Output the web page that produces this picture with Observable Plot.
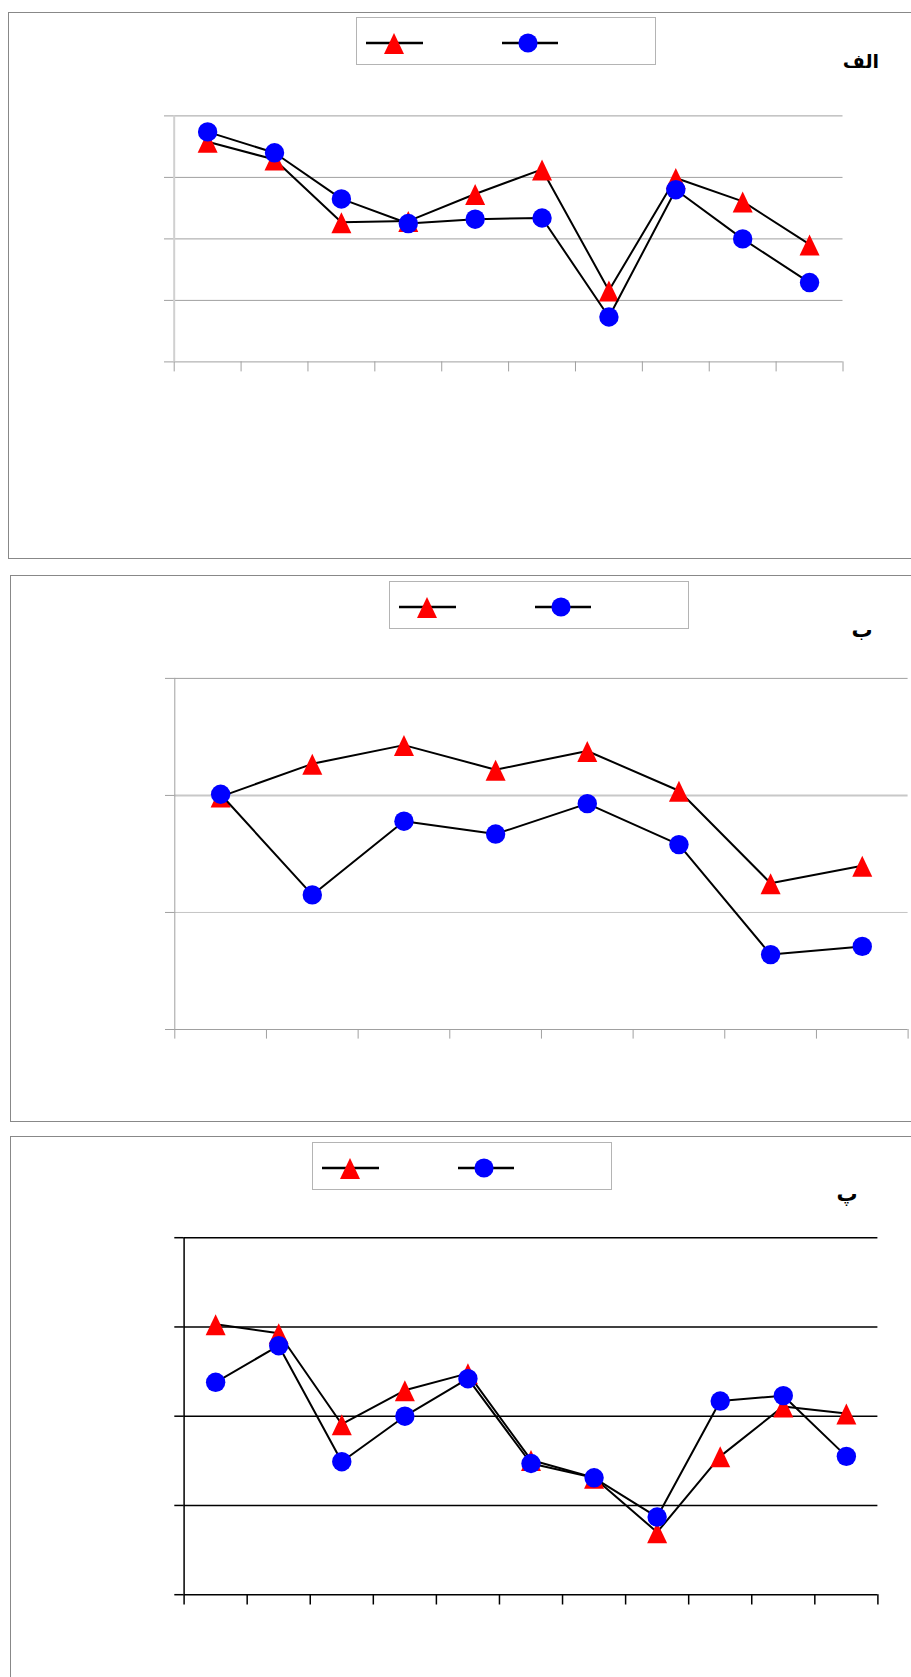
<!DOCTYPE html>
<html>
<head>
<meta charset="utf-8">
<script src="https://cdn.jsdelivr.net/npm/d3@7"></script>
<script src="https://cdn.jsdelivr.net/npm/@observablehq/plot@0.6"></script>
<style>
  html, body { margin: 0; padding: 0; background: #fff; overflow: hidden; }
  #root { position: relative; width: 911px; height: 1677px; overflow: hidden; font-family: "DejaVu Sans", sans-serif; }
  .panel { position: absolute; border: 1px solid #888; box-sizing: border-box; }
  .legend { position: absolute; border: 1px solid #b4b4b4; box-sizing: border-box; background: #fff; }
  .legend svg { position: absolute; left: 0; top: 0; }
  .lab { position: absolute; font-weight: bold; font-size: 20px; transform: translate(-50%, -50%); line-height: 1; white-space: nowrap; }
  .plotwrap { position: absolute; left: 0; }
</style>
</head>
<body>
<div id="root"></div>
<script>
// ---- Data (values in grid units; the reference shows no tick labels) ----
const labelA = "الف";
const labelB = "ب";
const labelC = "پ";

const triangleA = [3.58, 3.29, 2.27, 2.29, 2.73, 3.13, 1.16, 2.99, 2.61, 1.91];
const circleA   = [3.74, 3.40, 2.65, 2.25, 2.32, 2.34, 0.73, 2.80, 2.00, 1.29];

const triangleB = [1.99, 2.27, 2.43, 2.22, 2.38, 2.04, 1.25, 1.40];
const circleB   = [2.01, 1.15, 1.78, 1.67, 1.93, 1.58, 0.64, 0.71];

const triangleC = [3.03, 2.93, 1.91, 2.29, 2.48, 1.51, 1.31, 0.70, 1.55, 2.11, 2.03];
const circleC   = [2.38, 2.79, 1.49, 2.00, 2.42, 1.47, 1.31, 0.87, 2.17, 2.23, 1.55];

const gridA = [0, 1, 2, 3, 4];
const gridB = [0, 1, 2, 3];
const gridC = [0, 1, 2, 3, 4];

// ---- Symbols ----
const triangleSymbol = {
  draw(context, size) {
    const r = Math.sqrt(size / Math.PI);
    context.moveTo(0, -r);
    context.lineTo(r, 1.1 * r);
    context.lineTo(-r, 1.1 * r);
    context.closePath();
  }
};

const root = document.getElementById("root");

function addDiv(cls, style, html) {
  const d = document.createElement("div");
  d.className = cls;
  Object.assign(d.style, style);
  if (html != null) d.innerHTML = html;
  root.appendChild(d);
  return d;
}

function legendSVG() {
  return `<svg width="300" height="48" xmlns="http://www.w3.org/2000/svg">
    <line x1="9" x2="66" y1="25" y2="25" stroke="#000" stroke-width="2.5"/>
    <path d="M37,15 L47,36 L27,36 Z" fill="#ff0000"/>
    <line x1="145" x2="201" y1="25" y2="25" stroke="#000" stroke-width="2.5"/>
    <circle cx="171" cy="25" r="9.6" fill="#0000ff"/>
  </svg>`;
}

function makePanel(cfg) {
  const n = cfg.tri.length;
  const xs = (d, i) => i + 0.5;
  const marks = [];
  cfg.grid.forEach((v, k) => {
    marks.push(Plot.ruleY([v], {stroke: cfg.gridColor[k], strokeWidth: cfg.gridWidth[k]}));
  });
  marks.push(Plot.axisY({ticks: cfg.grid, tickSize: cfg.yTick, tickFormat: () => "", label: null, stroke: cfg.tickColor, strokeWidth: cfg.tickWidth}));
  marks.push(Plot.axisX({ticks: d3.range(n + 1), tickSize: cfg.xTick, tickFormat: () => "", label: null, stroke: cfg.tickColor, strokeWidth: cfg.tickWidth}));
  marks.push(Plot.ruleX([0], {stroke: cfg.yAxisColor, strokeWidth: cfg.yAxisWidth}));
  marks.push(Plot.line(cfg.tri, {x: xs, y: d => d, stroke: "#000", strokeWidth: 2}));
  marks.push(Plot.dot(cfg.tri, {x: xs, y: d => d, symbol: triangleSymbol, r: 10, fill: "#ff0000", stroke: "none"}));
  marks.push(Plot.line(cfg.cir, {x: xs, y: d => d, stroke: "#000", strokeWidth: 2}));
  marks.push(Plot.dot(cfg.cir, {x: xs, y: d => d, r: 9.7, fill: "#0000ff", stroke: "none"}));

  const svg = Plot.plot({
    width: 911,
    height: cfg.height,
    marginLeft: cfg.ml,
    marginRight: cfg.mr,
    marginTop: cfg.mt,
    marginBottom: cfg.mb,
    x: {domain: [0, n], axis: null},
    y: {domain: [0, cfg.grid[cfg.grid.length - 1]], axis: null},
    style: {background: "transparent", overflow: "visible"},
    marks
  });
  const wrap = addDiv("plotwrap", {top: cfg.top + "px"});
  wrap.appendChild(svg);

  addDiv("legend", {left: cfg.legend[0] + "px", top: cfg.legend[1] + "px", width: "300px", height: "48px"}, legendSVG());
  const lab = addDiv("lab", {left: cfg.labelPos[0] + "px", top: cfg.labelPos[1] + "px", fontSize: cfg.labelSize + "px"});
  lab.textContent = cfg.label;
  lab.dir = "rtl";
}

addDiv("panel", {left: "8px", top: "12px", width: "1000px", height: "547px"});
addDiv("panel", {left: "10px", top: "575px", width: "1000px", height: "547px"});
addDiv("panel", {left: "10px", top: "1136px", width: "1000px", height: "700px"});

makePanel({
  tri: triangleA, cir: circleA, grid: gridA, label: labelA, labelSize: 19,
  top: 0, height: 560, ml: 173.7, mr: 68.5, mt: 115.4, mb: 198.6,
  gridColor: ["#a0a0a0", "#a0a0a0", "#a0a0a0", "#a0a0a0", "#a0a0a0"],
  gridWidth: [1, 1, 1, 1, 1],
  tickColor: "#a0a0a0", tickWidth: 1, yTick: 9.7, xTick: 10,
  yAxisColor: "#d0d0d0", yAxisWidth: 2,
  legend: [356, 17], labelPos: [861, 61]
});

makePanel({
  tri: triangleB, cir: circleB, grid: gridB, label: labelB, labelSize: 21,
  top: 560, height: 560, ml: 174.3, mr: 3.4, mt: 117.9, mb: 91,
  gridColor: ["#a0a0a0", "#c4c4c4", "#c8c8c8", "#a0a0a0"],
  gridWidth: [1, 1, 2, 1],
  tickColor: "#a0a0a0", tickWidth: 1, yTick: 9.3, xTick: 9.6,
  yAxisColor: "#a0a0a0", yAxisWidth: 1,
  legend: [389, 581], labelPos: [862, 630]
});

makePanel({
  tri: triangleC, cir: circleC, grid: gridC, label: labelC, labelSize: 21,
  top: 1120, height: 557, ml: 183.6, mr: 33.6, mt: 117.2, mb: 82.8,
  gridColor: ["#000", "#000", "#000", "#000", "#000"],
  gridWidth: [1.5, 1.5, 1.5, 1.5, 1.5],
  tickColor: "#000", tickWidth: 1.5, yTick: 9.3, xTick: 10.3,
  yAxisColor: "#000", yAxisWidth: 1.5,
  legend: [311.5, 1142], labelPos: [847, 1194]
});
</script>
</body>
</html>
